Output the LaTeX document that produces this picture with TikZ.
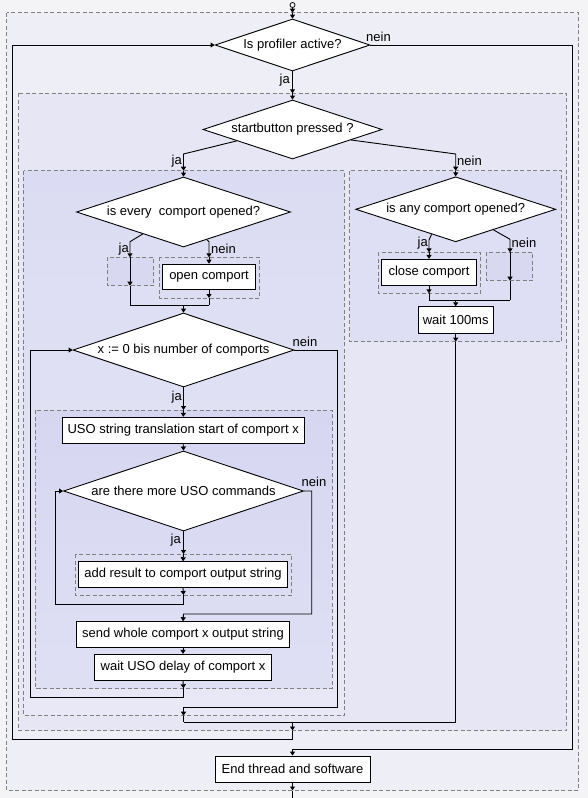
\documentclass[tikz,border=0pt]{standalone}
\usepackage{fontspec}
\setmainfont{Liberation Sans}
\usetikzlibrary{shapes.geometric,arrows.meta,calc}
\definecolor{bgout}{HTML}{F4F4F7}
\definecolor{lvA}{HTML}{EEEEF7}
\definecolor{lvB}{HTML}{E6E6F5}
\definecolor{lvCtop}{HTML}{DBDBF3}
\definecolor{lvCbot}{HTML}{E8E8F6}
\definecolor{lvR}{HTML}{DEDEF4}
\definecolor{lvDtop}{HTML}{D6D6F1}
\definecolor{lvDbot}{HTML}{DFDFF4}
\definecolor{emptyc}{HTML}{D8D8F0}
\definecolor{innerc}{HTML}{DCDCF2}
\definecolor{dashc}{HTML}{808080}
\tikzset{
  line/.style={draw=black, line width=0.9pt},
  arr/.style={line, -{Triangle[length=4pt,width=5pt]}},
  frame/.style={draw=dashc, line width=0.8pt, dash pattern=on 4pt off 2.5pt},
  pbox/.style={draw=black, fill=white, line width=0.9pt, inner sep=0pt, font=\fontsize{13}{15}\selectfont},
  dec/.style={diamond, draw=black, fill=white, line width=0.9pt, inner sep=0pt, aspect=3, font=\fontsize{13}{15}\selectfont},
  lbl/.style={inner sep=0pt, font=\fontsize{13}{15}\selectfont}
}
\begin{document}
\begin{tikzpicture}[x=1pt,y=-1pt]
\useasboundingbox (0,0) rectangle (588,798);
\fill[bgout] (0,0) rectangle (588,798);
% containers
\filldraw[frame, fill=lvA] (6.5,12.7) rectangle (578.5,790.5);
\filldraw[frame, fill=lvB] (18.7,93.3) rectangle (566.7,730.5);
\shade[top color=lvCtop, bottom color=lvCbot] (23.6,170.7) rectangle (344,715.7);
\draw[frame] (23.6,170.7) rectangle (344,715.7);
\filldraw[frame, fill=lvR] (349.5,170.7) rectangle (561.5,341.7);
\shade[top color=lvDtop, bottom color=lvDbot] (35.3,410) rectangle (332,688.3);
\draw[frame] (35.3,410) rectangle (332,688.3);
\filldraw[frame, fill=emptyc] (107.3,257.3) rectangle (153.7,285.7);
\filldraw[frame, fill=innerc] (159.3,257.3) rectangle (259.7,298);
\filldraw[frame, fill=innerc] (378.3,252.3) rectangle (480.7,293.3);
\filldraw[frame, fill=emptyc] (486,252.3) rectangle (532.7,280.7);
\filldraw[frame, fill=innerc] (75,554) rectangle (291.7,595);

% nodes
\node[circle, draw=black, fill=white, line width=0.8pt, minimum size=5pt, inner sep=0pt] (start) at (292.5,5) {};
\node[dec, minimum width=155pt, minimum height=52pt] (d1) at (292.5,45) {Is profiler active?};
\node[dec, minimum width=179pt, minimum height=59pt] (d2) at (292.5,129.5) {startbutton pressed ?};
\node[dec, minimum width=214pt, minimum height=70pt] (d3) at (183.5,212) {is every\ \ comport opened?};
\node[dec, minimum width=221pt, minimum height=74pt] (d4) at (183.5,350) {x := 0 bis number of comports};
\node[dec, minimum width=240pt, minimum height=80pt] (d5) at (183.5,491) {are there more USO commands};
\node[dec, minimum width=200pt, minimum height=65pt] (d6) at (455.7,209.3) {is any comport opened?};

\node[pbox, minimum width=93.4pt, minimum height=25.7pt] (oc) at (209,277) {open comport};
\node[pbox, minimum width=95.7pt, minimum height=26pt] (cc) at (429,272.3) {close comport};
\node[pbox, minimum width=75pt, minimum height=26.6pt] (w100) at (455.7,320) {wait 100ms};
\node[pbox, minimum width=241.7pt, minimum height=26pt] (uso) at (183.2,430.3) {USO string translation start of comport x};
\node[pbox, minimum width=209pt, minimum height=25.6pt] (add) at (183,574.5) {add result to comport output string};
\node[pbox, minimum width=213pt, minimum height=25.6pt] (send) at (183,634.5) {send whole comport x output string};
\node[pbox, minimum width=177pt, minimum height=26pt] (wuso) at (183,667.3) {wait USO delay of comport x};
\node[pbox, minimum width=155pt, minimum height=26.5pt] (endb) at (292.5,769.3) {End thread and software};

% labels
\node[lbl, anchor=west] (n1) at (366,37) {nein};
\node[lbl, anchor=east] (j1) at (290,80) {ja};
\node[lbl, anchor=east] (j2) at (182,161) {ja};
\node[lbl, anchor=west] (n2) at (457,161) {nein};
\node[lbl, anchor=east] (j3) at (129,248.7) {ja};
\node[lbl, anchor=west] (n3) at (211,248.7) {nein};
\node[lbl, anchor=east] (j6) at (428,243) {ja};
\node[lbl, anchor=west] (n6) at (511.5,243) {nein};
\node[lbl, anchor=west] (n4) at (292.5,341.7) {nein};
\node[lbl, anchor=east] (j4) at (182,397) {ja};
\node[lbl, anchor=west] (n5) at (301.5,482) {nein};
\node[lbl, anchor=east] (j5) at (181,540) {ja};

% coordinates
\coordinate (t1) at (292.5,12.7);
\coordinate (t2) at (292.5,93.3);
\coordinate (a2) at (183.5,154);
\coordinate (b2) at (183.5,170.7);
\coordinate (a2n) at (455.7,154);
\coordinate (b2n) at (455.7,170.7);
\coordinate (a3) at (130,241.7);
\coordinate (e1t) at (130,257.3);
\coordinate (e1b) at (130,285.7);
\coordinate (m3l) at (130,305.3);
\coordinate (m3r) at (209,305.3);
\coordinate (m3c) at (183.5,305.3);
\coordinate (a3n) at (209,241.7);
\coordinate (oct) at (209,257.3);
\coordinate (ocb) at (209,298);
\coordinate (a6) at (429,240);
\coordinate (cct) at (429,252.3);
\coordinate (ccb) at (429,293.3);
\coordinate (m6l) at (429,300);
\coordinate (m6r) at (510,300);
\coordinate (m6c) at (455.7,300);
\coordinate (a6n) at (510,239.3);
\coordinate (e2t) at (510,252.3);
\coordinate (e2b) at (510,280.7);
\coordinate (rb) at (455.7,341.7);
\coordinate (rl) at (455.7,722);
\coordinate (t4) at (183.5,410);
\coordinate (t5) at (183.5,554);
\coordinate (b5) at (183.5,595);
\coordinate (l5a) at (183.5,604);
\coordinate (l5b) at (55,604);
\coordinate (l5c) at (55,491);
\coordinate (n5a) at (311.7,491);
\coordinate (n5b) at (311.7,614);
\coordinate (n5c) at (183.5,614);
\coordinate (b4) at (183.5,688.3);
\coordinate (l4a) at (183.5,697);
\coordinate (l4b) at (30,697);
\coordinate (l4c) at (30,350);
\coordinate (n4a) at (337.5,350);
\coordinate (n4b) at (337.5,707.3);
\coordinate (n4c) at (183.5,707.3);
\coordinate (n4d) at (183.5,715.7);
\coordinate (n4e) at (183.5,722);
\coordinate (mc) at (292.5,722);
\coordinate (mb) at (292.5,730.5);
\coordinate (la) at (292.5,739.3);
\coordinate (lb) at (12.5,739.3);
\coordinate (lc) at (12.5,45);
\coordinate (n1a) at (572.5,45);
\coordinate (n1b) at (572.5,749.5);
\coordinate (n1c) at (292.5,749.5);
\coordinate (eb) at (292.5,790.5);
\coordinate (ez) at (292.5,798);

% connectors
\draw[arr] (start) -- (t1);
\draw[arr] (t1) -- (d1.north);
\draw[arr] (d1.south) -- (t2);
\draw[arr] (t2) -- (d2.north);
% startbutton branches
\draw[arr] ($(d2.west)!0.38!(d2.south)$) -- (a2) -- (b2);
\draw[arr] (b2) -- (d3.north);
\draw[arr] ($(d2.east)!0.35!(d2.south)$) -- (a2n) -- (b2n);
\draw[arr] (b2n) -- (d6.north);
% every comport opened
\draw[arr] ($(d3.west)!0.62!(d3.south)$) -- (a3) -- (e1t);
\draw[arr] (e1t) -- (e1b);
\draw[line] (e1b) -- (m3l) -- (m3r);
\draw[arr] ($(d3.south)!0.217!(d3.east)$) -- (a3n) -- (oct);
\draw[arr] (oct) -- (oc.north);
\draw[arr] (oc.south) -- (ocb);
\draw[line] (ocb) -- (m3r);
\draw[arr] (m3c) -- (d4.north);
% any comport opened
\draw[arr] ($(d6.west)!0.76!(d6.south)$) -- (a6) -- (cct);
\draw[arr] (cct) -- (cc.north);
\draw[arr] (cc.south) -- (ccb);
\draw[line] (ccb) -- (m6l) -- (m6r);
\draw[arr] ($(d6.south)!0.376!(d6.east)$) -- (a6n) -- (e2t);
\draw[arr] (e2t) -- (e2b);
\draw[line] (e2b) -- (m6r);
\draw[arr] (m6c) -- (w100.north);
\draw[arr] (w100.south) -- (rb);
\draw[line] (rb) -- (rl) -- (n4e);
% for loop
\draw[arr] (d4.south) -- (t4);
\draw[arr] (t4) -- (uso.north);
\draw[arr] (uso.south) -- (d5.north);
\draw[arr] (d5.south) -- (t5);
\draw[arr] (t5) -- (add.north);
\draw[arr] (add.south) -- (b5);
\draw[arr] (b5) -- (l5a) -- (l5b) -- (l5c) -- (d5.west);
\draw[arr] (d5.east) -- (n5a) -- (n5b) -- (n5c) -- (send.north);
\draw[arr] (send.south) -- (wuso.north);
\draw[arr] (wuso.south) -- (b4);
\draw[arr] (b4) -- (l4a) -- (l4b) -- (l4c) -- (d4.west);
\draw[arr] (d4.east) -- (n4a) -- (n4b) -- (n4c) -- (n4d);
\draw[line] (n4d) -- (n4e);
% main loop
\draw[arr] (mc) -- (mb);
\draw[arr] (mb) -- (la) -- (lb) -- (lc) -- (d1.west);
\draw[arr] (d1.east) -- (n1a) -- (n1b) -- (n1c) -- (endb.north);
\draw[arr] (endb.south) -- (eb);
\draw[line] (eb) -- (ez);
\end{tikzpicture}
\end{document}
